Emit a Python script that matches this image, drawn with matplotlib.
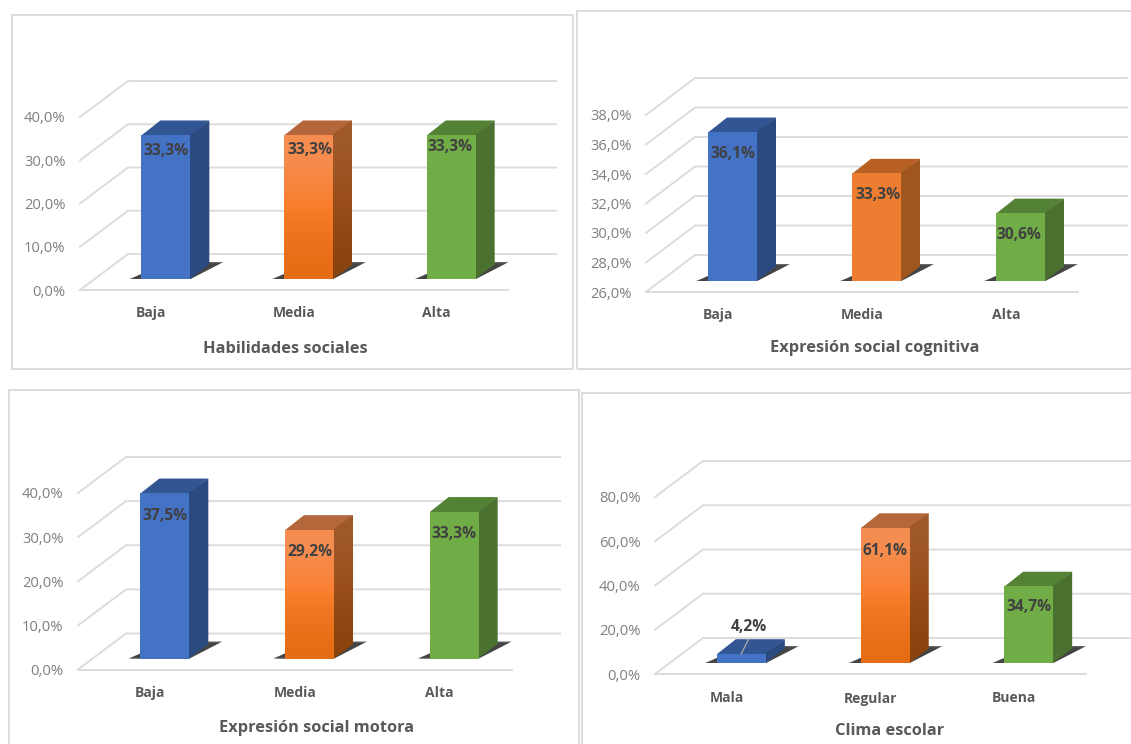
import matplotlib
matplotlib.use('Agg')
import matplotlib.pyplot as plt
from matplotlib.colors import LinearSegmentedColormap
from matplotlib.patches import Polygon, Rectangle

plt.rcParams['font.family'] = ['Open Sans', 'DejaVu Sans']

W, H = 1131, 744

# data
cats_niveles = ['Baja', 'Media', 'Alta']
cats_clima = ['Mala', 'Regular', 'Buena']
habilidades = [33.3, 33.3, 33.3]
cognitiva = [36.1, 33.3, 30.6]
motora = [37.5, 29.2, 33.3]
clima = [4.2, 61.1, 34.7]
ticks_40 = [0, 10, 20, 30, 40]
ticks_cog = [26, 28, 30, 32, 34, 36, 38]
ticks_80 = [0, 20, 40, 60, 80]

GRID = '#dcdcdc'
BLUE = {'front': '#4472c4', 'side': '#2a4a80', 'top': '#325594'}
GREEN = {'front': '#70ad47', 'side': '#4a7130', 'top': '#548235'}
ORANGE_FLAT = {'front': '#ed7d31', 'side': '#a0561f', 'top': '#b85f22'}
ORANGE_GRAD = {'front': ['#f58f55', '#f97e2c', '#e56b14'], 'side': ['#a05a2c', '#9a4f1a', '#8a420c'],
               'top': '#b5673c'}


def fmt(v):
    return f'{v:.1f}'.replace('.', ',') + '%'


def gradient(ax, patch, colours, zorder):
    # vertical gradient clipped to the patch
    cmap = LinearSegmentedColormap.from_list('g', colours)
    bb = patch.get_path().get_extents(patch.get_patch_transform())
    im = ax.imshow([[0], [1]], cmap=cmap, extent=(bb.x0, bb.x1, bb.y0, bb.y1), origin='upper',
                   aspect='auto', interpolation='bicubic', zorder=zorder)
    im.set_clip_path(patch)


def frame(x0, y0, x1, y1):
    fig.add_artist(Rectangle((x0 / W, 1 - y1 / H), (x1 - x0) / W, (y1 - y0) / H, transform=fig.transFigure,
                             fill=False, edgecolor=GRID, linewidth=1.4))


def panel(rect, frame_box, cats, values, ticks, title, title_xy, back, colours, offsets, x_pad, leader=None):
    left, right, floor, top = rect
    frame(*frame_box)
    ax = fig.add_axes([left / W, 1 - floor / H, (right - left) / W, (floor - top) / H])
    ax.patch.set_visible(False)
    ymin, ymax = ticks[0], ticks[-1]
    xlim = (-0.5, 2.5)

    # pixels to data units
    sx = 3 / (right - left)
    sy = (ymax - ymin) / (floor - top)
    bdx, bdy = back[0] * sx, back[1] * sy
    wall_x0, wall_x1 = xlim[0] + bdx, xlim[1] + bdx

    for t in ticks:
        ax.plot([xlim[0], wall_x0, wall_x1], [t, t + bdy, t + bdy], color=GRID, lw=1.4, clip_on=False, zorder=1)
    ax.plot(xlim, [ymin, ymin], color=GRID, lw=1.4, clip_on=False, zorder=1)

    width = 49 * sx
    shift_x, shift_y = 14.5 * sx, 11 * sy
    dep_x, dep_y = 19 * sx, 14.5 * sy

    for i, v in enumerate(values):
        x0 = i + shift_x - width / 2
        x1 = x0 + width
        base = ymin + shift_y
        c = colours[i]
        h = v - ymin

        # floor shadow, soft edge from a few layers
        for k, a in zip([3, 1.5, 0], [0.35, 0.45, 0.7]):
            ax.add_patch(Polygon([(x0 - (12 - k) * sx, base), (x1, base),
                                  (x1 + (33 - k) * sx, base + (17 - k * 0.5) * sy),
                                  (x1 + dep_x, base + (17 - k * 0.5) * sy),
                                  (x0, base + 5 * sy)],
                                 facecolor='#303030', edgecolor='none', alpha=a, clip_on=False, zorder=2))

        # side and top overlap the front face by half a pixel so no seam shows
        corners_side = [(x1 - 0.5 * sx, base), (x1 + dep_x, base + dep_y), (x1 + dep_x, base + h + dep_y),
                        (x1 - 0.5 * sx, base + h)]
        corners_top = [(x0, base + h - 0.5 * sy), (x1, base + h - 0.5 * sy), (x1 + dep_x, base + h + dep_y),
                       (x0 + dep_x, base + h + dep_y)]

        ax.add_patch(Polygon(corners_top, facecolor=c['top'], edgecolor='none', clip_on=False, zorder=3))
        side = Polygon(corners_side, facecolor=c['side'] if isinstance(c['side'], str) else c['side'][1],
                       edgecolor='none', clip_on=False, zorder=3)
        ax.add_patch(side)
        is_grad = not isinstance(c['front'], str)
        bar = ax.bar(x0 + width / 2, h, width, bottom=base, color=c['front'][1] if is_grad else c['front'],
                     clip_on=False, zorder=6)[0]
        if is_grad:
            gradient(ax, side, c['side'], 4)
            gradient(ax, bar, c['front'], 7)

        dx, dy = offsets[i]
        ax.text(x0 + width / 2 + dx * sx, base + h - dy * sy, fmt(v), ha='center', va='center', fontsize=11.2,
                fontweight='bold', color='#404040', zorder=9)

    if leader is not None:
        i = leader
        xc = i + shift_x
        yt = ymin + shift_y + values[i] - ymin
        ax.plot([xc, xc + 7 * sx], [yt, yt + 14 * sy], color='#a6a6a6', lw=1.0, clip_on=False, zorder=8)

    ax.set_xlim(xlim)
    ax.set_ylim(ymin, ymax)
    ax.set_xticks(range(3))
    ax.set_xticklabels(cats, fontsize=10, fontweight='bold', color='#595959')
    ax.set_yticks(ticks)
    ax.set_yticklabels([fmt(t) for t in ticks], fontsize=10.6, color='#7f7f7f')
    ax.tick_params(axis='x', length=0, pad=x_pad)
    ax.tick_params(axis='y', length=0, pad=10.5)
    for s in ax.spines.values():
        s.set_visible(False)

    fig.text(title_xy[0] / W, 1 - title_xy[1] / H, title, ha='center', va='center', fontsize=11.8,
             fontweight='bold', color='#595959')


fig = plt.figure(figsize=(W / 100, H / 100), dpi=100)

panel((80, 508, 290, 117), (12, 15, 573, 369), cats_niveles, habilidades, ticks_40,
      'Habilidades sociales', (285, 349), (48, 36), [BLUE, ORANGE_GRAD, GREEN],
      [(0, 16), (1, 15), (-1, 12)], 11.2)
panel((646, 1078, 292, 115), (577, 11, 1133, 369), cats_niveles, cognitiva, ticks_cog,
      'Expresión social cognitiva', (875, 347.5), (49, 37), [BLUE, ORANGE_FLAT, GREEN],
      [(0, 22), (1, 22), (-2, 22)], 11.2)
panel((78, 512, 669.5, 493), (9, 390, 579, 746), cats_niveles, motora, ticks_40,
      'Expresión social motora', (317, 728), (48, 36), [BLUE, ORANGE_GRAD, GREEN],
      [(0, 23), (0, 22), (0, 22)], 11.6)
panel((655, 1086, 674, 497), (582, 393, 1133, 746), cats_clima, clima, ticks_80,
      'Clima escolar', (890, 731), (48, 36), [BLUE, ORANGE_GRAD, GREEN],
      [(8, -27), (0, 23), (0, 21)], 12.6, leader=0)

fig.savefig('out.png', dpi=100)
